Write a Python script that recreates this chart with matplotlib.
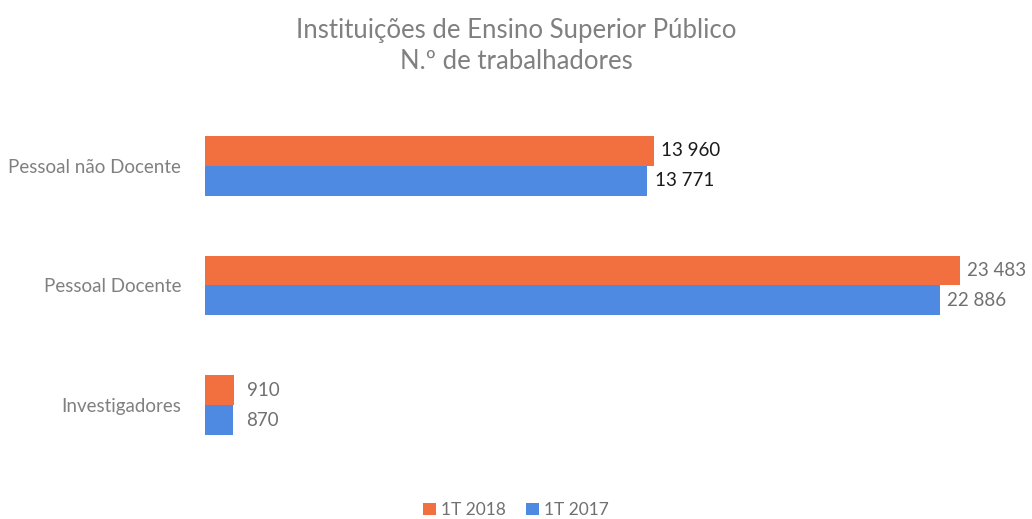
import matplotlib.pyplot as plt
import numpy as np

plt.rcParams['font.family'] = ['Lato', 'DejaVu Sans']

# data (bottom to top)
categories = ['Investigadores', 'Pessoal Docente', 'Pessoal não Docente']
t2018 = [910, 23483, 13960]
t2017 = [870, 22886, 13771]
series_names = ['1T 2018', '1T 2017']

orange = '#F2703F'
blue = '#4F8AE2'
grey = '#808080'

fig = plt.figure(figsize=(10.32, 5.19), dpi=100)
ax = fig.add_axes([0.1986, 0.104, 0.77, 0.692])

y = np.arange(len(categories))
h = 0.25
b1 = ax.barh(y + h / 2, t2018, height=h, color=orange, label=series_names[0])
b2 = ax.barh(y - h / 2, t2017, height=h, color=blue, label=series_names[1])

def fmt(v):
    return f'{v:,}'.replace(',', ' ')

for i, (a, b) in enumerate(zip(t2018, t2017)):
    col = '#1a1a1a' if i == 2 else '#707070'
    off = 400 if i == 0 else 220
    ax.text(a + off, y[i] + h / 2, fmt(a), va='center', ha='left', fontsize=13.5, color=col)
    ax.text(b + off, y[i] - h / 2, fmt(b), va='center', ha='left', fontsize=13.5, color=col)

ax.set_xlim(0, 24730)
ax.set_ylim(-0.5, 2.5)
ax.set_yticks(y)
ax.set_yticklabels(categories, fontsize=13.5, color=grey)
ax.tick_params(axis='y', length=0, pad=17)
ax.set_xticks([])
for s in ax.spines.values():
    s.set_visible(False)

fig.text(0.5, 0.942, 'Instituições de Ensino Superior Público', ha='center', va='center',
         fontsize=18.5, color=grey)
fig.text(0.5, 0.882, 'N.º de trabalhadores', ha='center', va='center', fontsize=18.5, color=grey)

fig.legend(handles=[b1, b2], loc='center', bbox_to_anchor=(0.5, 0.018), ncol=2, frameon=False,
           fontsize=12.5, labelcolor='#707070', handlelength=0.7, handleheight=0.7,
           handletextpad=0.3, columnspacing=1.2)

fig.savefig('out.png', dpi=100)
